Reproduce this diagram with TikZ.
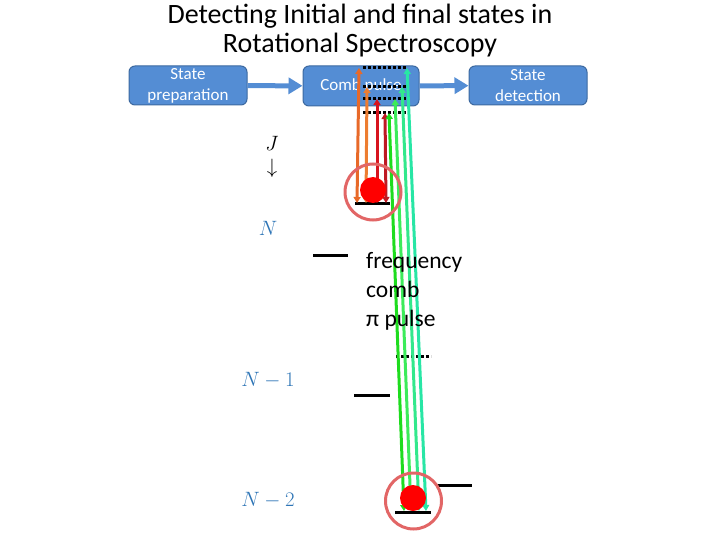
\documentclass[tikz,border=0pt]{standalone}
\usepackage{fontspec}
\setmainfont{Carlito}
\usetikzlibrary{arrows.meta}
\definecolor{boxblue}{RGB}{84,141,212}
\definecolor{boxedge}{RGB}{60,105,160}
\definecolor{labblue}{RGB}{46,117,182}
\definecolor{oran1}{RGB}{232,105,40}
\definecolor{oran2}{RGB}{237,125,49}
\definecolor{red1}{RGB}{215,20,30}
\definecolor{red2}{RGB}{190,25,35}
\definecolor{grn1}{RGB}{30,220,30}
\definecolor{grn2}{RGB}{60,235,90}
\definecolor{grn3}{RGB}{50,232,140}
\definecolor{grn4}{RGB}{40,230,165}
\definecolor{ringred}{RGB}{226,102,102}
\begin{document}
\begin{tikzpicture}[x=1pt,y=-1pt,
  bbox/.style={draw=boxedge, line width=1pt, fill=boxblue, rounded corners=6pt,
    minimum width=118pt, minimum height=39pt, text=white, align=center,
    font=\fontsize{17}{21}\selectfont, inner sep=0pt},
  barrow/.style={boxblue, line width=5pt, -{Triangle[length=14pt,width=16pt]}},
  dotline/.style={black, line width=3pt, dash pattern=on 3pt off 2pt},
  level/.style={black, line width=3pt},
  tr/.style={line width=3pt, {Triangle[length=6pt,width=7pt]}-{Triangle[length=6pt,width=7pt]}},
  ball/.style={circle, fill=red, inner sep=0pt, minimum size=26pt},
  ring/.style={circle, draw=ringred, line width=3pt, inner sep=0pt, minimum size=56pt},
  mlab/.style={text=labblue, font=\fontsize{20}{24}\selectfont}
]
\useasboundingbox (0,0) rectangle (720,540);

% title
\node[align=center, font=\fontsize{28}{29}\selectfont] (title) at (360,31)
  {Detecting Initial and final states in\\Rotational Spectroscopy};

% boxes
\node[bbox] (prep) at (188,85.5) {State\\preparation};
\node[bbox, minimum width=116pt, minimum height=40pt] (comb) at (361,86) {Comb pulse};
\node[bbox] (det) at (528,85.5) {State\\detection};
\draw[barrow] (prep) -- (comb);
\draw[barrow] (comb) -- (det);

% dotted upper levels
\draw[dotline] (363,68) -- (406,68);
\draw[dotline] (363,87) -- (406,87);
\draw[dotline] (363,99) -- (406,99);
\draw[dotline] (363,113) -- (406,113);

% other levels
\draw[level] (355,204) -- (390,204);
\draw[level] (313,255) -- (348,255);
\draw[dotline] (396,356) -- (431,356);
\draw[level] (354,395) -- (390,395);
\draw[level] (438,485) -- (472,485);
\draw[level] (395,512) -- (431,512);

% coordinates of transitions
\coordinate (o1b) at (357,203); \coordinate (o1t) at (359,68);
\coordinate (o2b) at (366,203); \coordinate (o2t) at (367,87);
\coordinate (r1b) at (377,203); \coordinate (r1t) at (377,99);
\coordinate (r2b) at (386,203); \coordinate (r2t) at (385,113);
\coordinate (g1b) at (404,511); \coordinate (g1t) at (389,113);
\coordinate (g2b) at (411,511); \coordinate (g2t) at (395,99);
\coordinate (g3b) at (419,511); \coordinate (g3t) at (402,87);
\coordinate (g4b) at (426,511); \coordinate (g4t) at (407,68);

\draw[tr, oran1] (o1b) -- (o1t);
\draw[tr, oran2] (o2b) -- (o2t);
\draw[tr, red1] (r1b) -- (r1t);
\draw[tr, red2] (r2b) -- (r2t);
\draw[tr, grn1] (g1b) -- (g1t);
\draw[tr, grn2] (g2b) -- (g2t);
\draw[tr, grn3] (g3b) -- (g3t);
\draw[tr, grn4] (g4b) -- (g4t);

% balls and rings
\node[ball] (ball1) at (373,190) {};
\node[ring] (ring1) at (373,192) {};
\node[ball] (ball2) at (413,498) {};
\node[ring] (ring2) at (413.5,501) {};

% labels
\node[inner sep=0pt, font=\fontsize{20}{24}\selectfont] (jlab) at (272,143) {$J$};
\node[inner sep=0pt, font=\fontsize{22}{24}\selectfont] (jarr) at (272,168) {$\downarrow$};
\node[mlab] (n0) at (268,228) {$N$};
\node[mlab] (n1) at (268,380) {$N-1$};
\node[mlab] (n2) at (268,500) {$N-2$};
\node[anchor=north west, align=left, inner sep=0pt, font=\fontsize{23.5}{29}\selectfont] (freq) at (366,252)
  {frequency\\comb\\π pulse};
\end{tikzpicture}
\end{document}
